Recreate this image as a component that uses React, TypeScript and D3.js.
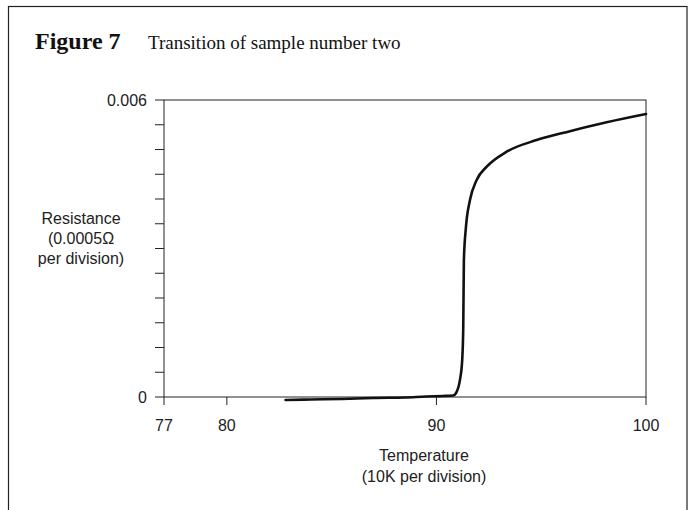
import React from "react";
import * as d3 from "d3";

const temperature = [82.8, 84, 85.5, 87, 88.5, 89.5, 90.3, 90.8, 90.93, 91.12, 91.23, 91.28, 91.31, 91.41, 91.6, 91.92, 92.4, 93.35, 94.78, 96.37, 98.12, 100];
const resistance = [-0.00006, -0.00005, -0.00004, -0.00002, -0.00001, 0.00001, 0.00002, 0.00003, 0.000075, 0.00034, 0.00075, 0.00142, 0.00277, 0.00344, 0.00398, 0.004384, 0.004653, 0.004955, 0.00519, 0.00537, 0.00555, 0.005717];
const xTicks = [77, 80, 90, 100];
const yTicks = d3.range(0, 13).map((i) => i * 0.0005);
const yLabelTicks = [0, 0.006];

const W = 691;
const H = 510;
const left = 164, right = 646, top = 100, bottom = 397;

export default function App() {
  const x = d3.scaleLinear().domain([77, 100]).range([left, right]);
  const y = d3.scaleLinear().domain([0, 0.006]).range([bottom, top]);
  const pts: [number, number][] = temperature.map((t, i) => [t, resistance[i]]);
  const line = d3
    .line<[number, number]>()
    .x((d) => x(d[0]))
    .y((d) => y(d[1]))
    .curve(d3.curveMonotoneX);
  const sans = "'Liberation Sans', Arial, sans-serif";
  const serif = "'Liberation Serif', 'Times New Roman', serif";
  const ink = "#222";
  return (
    <svg width={W} height={H} style={{ position: "absolute", left: 0, top: 0, background: "#fff" }}>
      <rect x={8.5} y={6.5} width={678.5} height={H + 10} fill="none" stroke={ink} strokeWidth={1.2} />
      <text x={35} y={49} fontFamily={serif} fontWeight="bold" fontSize={24} fill="#111">Figure 7</text>
      <text x={148} y={49} fontFamily={serif} fontSize={19} fill="#111">Transition of sample number two</text>

      <rect x={left} y={top} width={right - left} height={bottom - top} fill="none" stroke={ink} strokeWidth={1} />
      {yTicks.map((v) => (
        <line key={v} x1={left - 9} x2={left} y1={y(v)} y2={y(v)} stroke={ink} strokeWidth={1} />
      ))}
      {yLabelTicks.map((v) => (
        <text key={v} x={147} y={y(v)} dy="0.35em" textAnchor="end" fontFamily={sans} fontSize={16} fill={ink}>
          {v === 0 ? "0" : d3.format(".3f")(v)}
        </text>
      ))}
      {xTicks.map((v) => (
        <g key={v}>
          <line x1={x(v)} x2={x(v)} y1={bottom} y2={bottom + 8} stroke={ink} strokeWidth={1} />
          <text x={x(v)} y={431} textAnchor="middle" fontFamily={sans} fontSize={16} fill={ink}>{v}</text>
        </g>
      ))}
      <text textAnchor="middle" fontFamily={sans} fontSize={16} fill={ink}>
        <tspan x={81} y={224}>Resistance</tspan>
        <tspan x={81} y={244}>(0.0005Ω</tspan>
        <tspan x={81} y={264}>per division)</tspan>
      </text>
      <text textAnchor="middle" fontFamily={sans} fontSize={16} fill={ink}>
        <tspan x={424} y={461}>Temperature</tspan>
        <tspan x={424} y={482}>(10K per division)</tspan>
      </text>
      <path d={line(pts) || ""} fill="none" stroke="#111" strokeWidth={2.6} strokeLinejoin="round" strokeLinecap="round" />
    </svg>
  );
}
